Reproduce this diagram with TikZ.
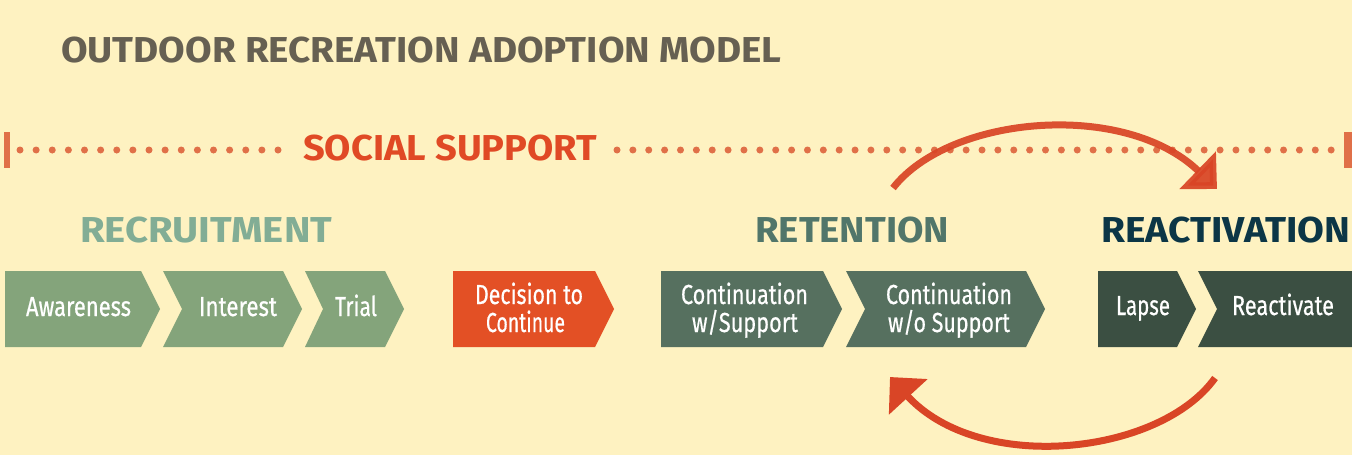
\documentclass[tikz,border=0pt]{standalone}
\usepackage{fontspec}
\setmainfont{Fira Sans}
\newfontfamily\cfont{Fira Sans}[FakeBold=0.6]
\usetikzlibrary{arrows.meta}
\definecolor{bgc}{HTML}{FEF2C1}
\definecolor{titlec}{HTML}{666052}
\definecolor{dotc}{HTML}{E07048}
\definecolor{socc}{HTML}{E04A25}
\definecolor{arrc}{HTML}{D94526}
\definecolor{recrc}{HTML}{82AD95}
\definecolor{retc}{HTML}{51766A}
\definecolor{reacc}{HTML}{0C3646}
\definecolor{chgreen}{HTML}{84A47B}
\definecolor{chorange}{HTML}{E35025}
\definecolor{chret}{HTML}{56705F}
\definecolor{chreac}{HTML}{3B4F42}
\newsavebox\fitbox
\newcommand\fw[2]{\sbox\fitbox{#2}\pgfmathsetmacro\fitr{#1/\wd\fitbox}\scalebox{\fitr}[1]{\usebox\fitbox}}
\newcommand\chev[4]{\fill (#1,271) -- (#3,271) -- ({#3+#4},309) -- (#3,347) -- (#1,347) -- ({#1+#2},309) -- cycle;}
\tikzset{
  head/.style={anchor=base west, inner sep=0pt, font=\fontsize{36}{40}\selectfont\bfseries},
  ctext/.style={anchor=base, inner sep=0pt, text=white, font=\fontsize{27.5}{28}\selectfont\cfont},
  arc/.style={draw=arrc, line width=7pt, -{Triangle[length=27pt,width=51pt]}},
}
\begin{document}
\begin{tikzpicture}[x=1pt,y=-1pt]
\useasboundingbox (0,0) rectangle (1352,455);
\fill[bgc] (0,0) rectangle (1352,455);
% title
\node[head, text=titlec] (title) at (61,62) {\fw{720}{OUTDOOR RECREATION ADOPTION MODEL}};
% social support line
\fill[dotc] (4,132) rectangle (10,168);
\fill[dotc] (1344,132) rectangle (1352,168);
\foreach \i in {0,...,16} \fill[dotc] ({20+\i*16.125},150) circle (3.5pt);
\foreach \i in {0,...,45} \fill[dotc] ({617+\i*15.87},150) circle (3.5pt);
\node[head, text=socc] (social) at (303,160) {\fw{294}{SOCIAL SUPPORT}};
% headings
\node[head, text=recrc] (recruit) at (80,242) {\fw{252}{RECRUITMENT}};
\node[head, text=retc] (retent) at (755,242) {\fw{194}{RETENTION}};
\node[head, text=reacc] (reactiv) at (1101,242) {\fw{249}{REACTIVATION}};
% chevrons
\begin{scope}[fill=chgreen]
\chev{5}{0}{141}{19}
\chev{163}{19}{283}{19}
\chev{305}{18}{385}{19}
\end{scope}
\begin{scope}[fill=chorange]
\chev{453}{0}{595}{19}
\end{scope}
\begin{scope}[fill=chret]
\chev{661}{0}{823}{19}
\chev{846}{19}{1026}{19}
\end{scope}
\begin{scope}[fill=chreac]
\chev{1098}{0}{1177}{19}
\chev{1198}{19}{1360}{0}
\end{scope}
% chevron texts
\node[ctext] (aw) at (78.5,316) {\fw{105}{Awareness}};
\node[ctext] (in) at (238,316) {\fw{78}{Interest}};
\node[ctext] (tr) at (356,316) {\fw{42}{Trial}};
\node[ctext] (dec1) at (529,304) {\fw{108}{Decision to}};
\node[ctext] (dec2) at (525.5,332) {\fw{79}{Continue}};
\node[ctext] (cs1) at (744.5,304) {\fw{127}{Continuation}};
\node[ctext] (cs2) at (745,332) {\fw{106}{w/Support}};
\node[ctext] (cw1) at (949,304) {\fw{126}{Continuation}};
\node[ctext] (cw2) at (949,332) {\fw{122}{w/o Support}};
\node[ctext] (lapse) at (1143,315) {\fw{54}{Lapse}};
\node[ctext] (react) at (1283,315) {\fw{102}{Reactivate}};
% arcs
\coordinate (ta) at (893,188);
\coordinate (tb) at (1217,189);
\coordinate (ba) at (1215,378);
\coordinate (bb) at (890,377);
\draw[arc, opacity=0.93] (ta) .. controls (950,115) and (1125,100) .. (tb);
\draw[arc] (ba) .. controls (1160,455) and (980,475) .. (bb);
\end{tikzpicture}
\end{document}
